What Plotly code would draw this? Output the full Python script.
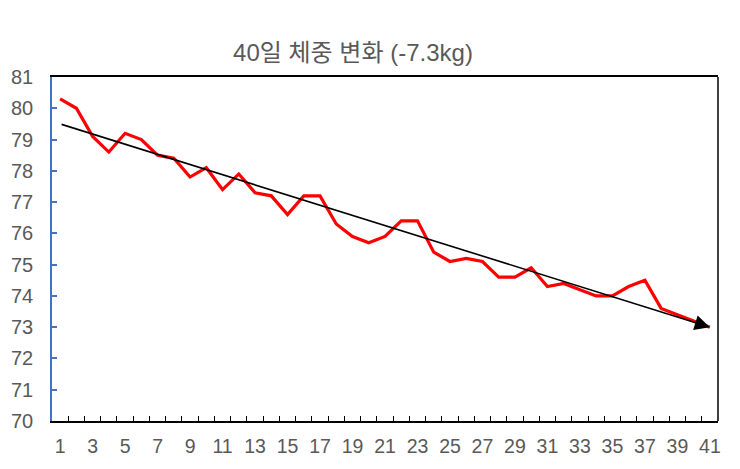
import plotly.graph_objects as go

days = list(range(1, 42))
weights = [80.3, 80.0, 79.1, 78.6, 79.2, 79.0, 78.5, 78.4, 77.8, 78.1,
           77.4, 77.9, 77.3, 77.2, 76.6, 77.2, 77.2, 76.3, 75.9, 75.7,
           75.9, 76.4, 76.4, 75.4, 75.1, 75.2, 75.1, 74.6, 74.6, 74.9,
           74.3, 74.4, 74.2, 74.0, 74.0, 74.3, 74.5, 73.6, 73.4, 73.2,
           73.0]
trend_days = [1, 41]
trend_values = [79.5, 73.0]
x_tick_vals = list(range(1, 42, 2))
x_tick_text = [str(v) for v in x_tick_vals]
y_tick_vals = list(range(70, 82))

FONT = "Liberation Sans, Arial, Noto Sans CJK KR, sans-serif"
GREY = "#595959"
BLUE = "#4472C4"

W, H = 724, 453

fig = go.Figure()
fig.add_trace(go.Scatter(
    x=days, y=weights, mode="lines",
    line=dict(color="#FF0000", width=3.2),
    hoverinfo="skip", showlegend=False,
))

fig.add_annotation(
    x=trend_days[1], y=trend_values[1],
    ax=trend_days[0], ay=trend_values[0],
    xref="x", yref="y", axref="x", ayref="y",
    showarrow=True, arrowhead=2, arrowsize=1.9, arrowwidth=1.6,
    arrowcolor="black", text="", standoff=0,
)

fig.add_shape(type="line", xref="paper", yref="paper",
              x0=1, x1=1, y0=0, y1=1,
              line=dict(color="black", width=1.5))

fig.update_layout(
    width=W, height=H,
    margin=dict(l=44, r=14, t=69, b=40, autoexpand=False),
    paper_bgcolor="white", plot_bgcolor="white",
    font=dict(family=FONT, color=GREY, size=19),
    title=dict(
        text="40일 체중 변화 (-7.3kg)",
        font=dict(family=FONT, size=24, color=GREY),
        xref="container", yref="container",
        x=345 / W, xanchor="center",
        y=1 - 45 / H, yanchor="middle",
    ),
    xaxis=dict(
        range=[0.5, 41.5], automargin=False,
        tickmode="array", tickvals=x_tick_vals, ticktext=x_tick_text,
        ticks="inside", ticklen=0,
        showline=True, linecolor="black", linewidth=1.5,
        mirror=True, showgrid=False, zeroline=False,
        tickfont=dict(size=19.5, color=GREY),
        ticklabelstandoff=7,
        minor=dict(tick0=0.5, dtick=1, ticks="inside", ticklen=5,
                   tickcolor="black", tickwidth=1.3, showgrid=False),
    ),
    yaxis=dict(
        range=[70, 81], automargin=False,
        tickmode="array", tickvals=y_tick_vals,
        ticks="inside", ticklen=5, tickcolor=BLUE, tickwidth=1.5,
        showline=True, linecolor=BLUE, linewidth=1.5,
        showgrid=False, zeroline=False,
        tickfont=dict(size=20, color=GREY),
        ticklabelstandoff=13,
    ),
)

fig.write_html("out.html")
